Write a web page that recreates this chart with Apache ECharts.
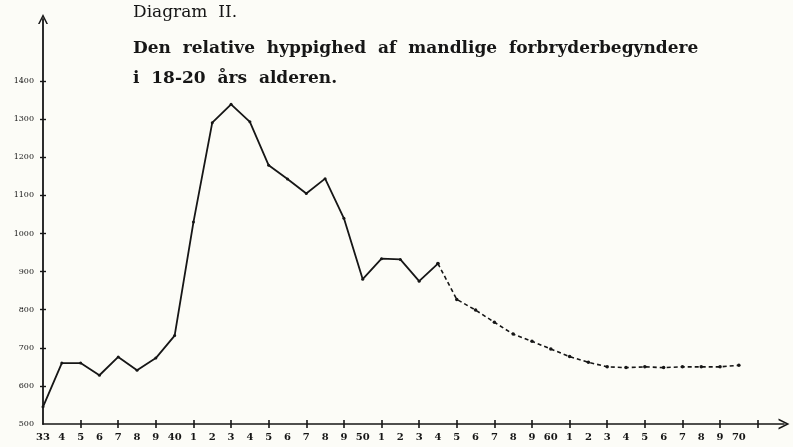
<!DOCTYPE html>
<html>
<head>
<meta charset="utf-8">
<script src="https://cdn.jsdelivr.net/npm/echarts@6/dist/echarts.min.js"></script>
<style>
  html, body { margin: 0; padding: 0; background: #fcfcf7; }
  #chart { width: 793px; height: 447px; }
</style>
</head>
<body>
<div id="chart"></div>
<script>
// years on the x axis
const firstYear = 1933;
const lastYear = 1970;
const splitYear = 1954; // solid line ends, dashed line starts

// observed values 1933-1954
const observed = [545, 660, 660, 628, 676, 641, 673, 732, 1030, 1291, 1339, 1293,
  1179, 1143, 1105, 1144, 1040, 880, 934, 932, 875, 921];
// projected values 1954-1970
const projected = [921, 827, 799, 767, 736, 717, 697, 677, 662, 650, 648, 650,
  648, 650, 650, 650, 654];

// tick labels
const yLabels = [500, 600, 700, 800, 900, 1000, 1100, 1200, 1300, 1400];
const yTicks = [600, 700, 800, 900, 1000, 1100, 1200, 1300, 1400];
const xTicks = [];
for (let y = 1935; y <= 1971; y += 2) xTicks.push(y);
const xLabels = [];
for (let y = firstYear; y <= lastYear; y++) xLabels.push(y);

const ink = '#161616';
const serif = '"DejaVu Serif", "Liberation Serif", serif';
const arrow = 'path://M0,10 L5,0 L10,10 L8.4,10 L5,3.2 L1.6,10 Z';

const chart = echarts.init(document.getElementById('chart'));

function shortYear(v) {
  if (v === firstYear) return '33';
  return v % 10 === 0 ? String(v % 100) : String(v % 10);
}

const xBase = {
  type: 'value', min: firstYear, max: 1972.4,
  splitLine: { show: false }
};
const yBase = {
  type: 'value', min: 500, max: 1563,
  splitLine: { show: false }
};

chart.setOption({
  backgroundColor: '#fcfcf7',
  animation: false,
  grid: { left: 43, right: 9, top: 19, bottom: 23 },
  graphic: [
    { type: 'text', left: 133, top: 4,
      style: { text: 'Diagram  II.', font: 'normal 17px ' + serif, fill: ink } },
    { type: 'text', left: 133, top: 40,
      style: { text: 'Den  relative  hyppighed  af  mandlige  forbryderbegyndere', font: 'bold 17px ' + serif, fill: ink } },
    { type: 'text', left: 133, top: 70,
      style: { text: 'i  18-20  års  alderen.', font: 'bold 17px ' + serif, fill: ink } }
  ],
  xAxis: [
    Object.assign({}, xBase, {
      axisLine: { show: true, symbol: ['none', arrow], symbolSize: [11, 12],
        lineStyle: { color: ink, width: 1.6 } },
      axisTick: { show: true, inside: false, length: 4, customValues: xTicks,
        lineStyle: { color: ink, width: 1.6 } },
      axisLabel: { show: true, customValues: xLabels, formatter: shortYear, margin: 8,
        fontFamily: serif, fontSize: 10, fontWeight: 'bold', color: ink }
    }),
    Object.assign({}, xBase, {
      position: 'bottom',
      axisLine: { show: false },
      axisTick: { show: true, inside: true, length: 4, customValues: xTicks,
        lineStyle: { color: ink, width: 1.6 } },
      axisLabel: { show: false }
    })
  ],
  yAxis: [
    Object.assign({}, yBase, {
      axisLine: { show: true, symbol: ['none', arrow], symbolSize: [10, 12],
        lineStyle: { color: ink, width: 1.8 } },
      axisTick: { show: true, inside: false, length: 3, customValues: yTicks,
        lineStyle: { color: ink, width: 1.4 } },
      axisLabel: { show: true, customValues: yLabels, margin: 9,
        formatter: v => String(v),
        fontFamily: serif, fontSize: 8, color: ink }
    }),
    Object.assign({}, yBase, {
      position: 'left',
      axisLine: { show: false },
      axisTick: { show: true, inside: true, length: 3, customValues: yTicks,
        lineStyle: { color: ink, width: 1.4 } },
      axisLabel: { show: false }
    })
  ],
  series: [
    {
      type: 'line',
      data: observed.map((v, i) => [firstYear + i, v]),
      symbol: 'circle', symbolSize: 3,
      itemStyle: { color: ink },
      lineStyle: { color: ink, width: 1.8 }
    },
    {
      type: 'line',
      data: projected.map((v, i) => [splitYear + i, v]),
      symbol: 'circle', symbolSize: 3.5,
      itemStyle: { color: ink },
      lineStyle: { color: ink, width: 1.6, type: [4, 3] }
    }
  ]
});
</script>
</body>
</html>
